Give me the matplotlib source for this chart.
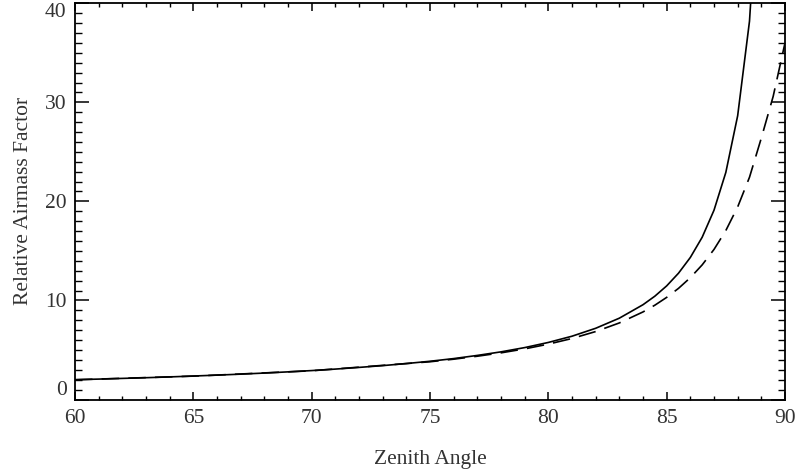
import numpy as np
import matplotlib
matplotlib.use('Agg')
import matplotlib.pyplot as plt
from matplotlib.ticker import MultipleLocator

# Werte
zenith = [60, 61, 62, 63, 64, 65, 66, 67, 68, 69, 70, 71, 72, 73, 74, 75, 76, 77, 78, 79,
          80, 81, 82, 83, 84, 84.5, 85, 85.5, 86, 86.5, 87, 87.5, 88, 88.5, 89]
airmass_flat = [2.00, 2.06, 2.13, 2.20, 2.28, 2.37, 2.46, 2.56, 2.67, 2.79, 2.92, 3.07, 3.24,
                3.42, 3.63, 3.86, 4.13, 4.45, 4.81, 5.24, 5.76, 6.39, 7.19, 8.21, 9.57, 10.43,
                11.47, 12.75, 14.34, 16.38, 19.11, 22.93, 28.65, 38.20, 57.30]

zenith_curved = [60, 65, 70, 75, 76, 77, 78, 79, 80, 81, 82, 83, 84, 84.5, 85, 85.5, 86,
                 86.5, 87, 87.5, 88, 88.5, 89, 89.5, 90]
airmass_curved = [1.99, 2.36, 2.90, 3.81, 4.07, 4.37, 4.71, 5.11, 5.59, 6.16, 6.86, 7.73,
                  8.84, 9.52, 10.31, 11.22, 12.30, 13.59, 15.15, 17.06, 19.44, 22.44, 26.4,
                  30.6, 36.0]

plt.rcParams['font.family'] = 'Liberation Serif'
plt.rcParams['font.size'] = 15.5

fig = plt.figure(figsize=(7.99, 4.73), dpi=100)
ax = fig.add_axes([75 / 799, 73.5 / 473, 710 / 799, 396.2 / 473])

ax.plot(zenith, airmass_flat, color='black', lw=1.2)
ax.plot(zenith_curved, airmass_curved, color='black', lw=1.2, dashes=(10.5, 5.5))

ax.set_xlim(60, 90)
ax.set_ylim(0, 40)
ax.set_xticks([60, 65, 70, 75, 80, 85, 90])
ax.set_yticks([0, 10, 20, 30, 40])
ax.xaxis.set_minor_locator(MultipleLocator(1))
ax.yaxis.set_minor_locator(MultipleLocator(1))

ax.tick_params(axis='x', which='major', direction='in', length=5.8, width=1.1,
               top=True, bottom=True, pad=7, colors='#333333')
ax.tick_params(axis='x', which='minor', direction='in', length=2.9, width=1.0,
               top=True, bottom=True)
ax.tick_params(axis='y', which='major', direction='in', length=10, width=1.1,
               left=True, right=True, pad=6, colors='#333333')
ax.tick_params(axis='y', which='minor', direction='in', length=5, width=1.0,
               left=True, right=True)
ax.tick_params(which='both', color='black')

for s in ax.spines.values():
    s.set_linewidth(1.3)

# Randbeschriftungen nach innen schieben
ylabels = ax.get_yticklabels()
ylabels[0].set_verticalalignment('bottom')
ylabels[-1].set_verticalalignment('top')

ax.set_xlabel('Zenith Angle', color='#333333', labelpad=16)
ax.set_ylabel('Relative Airmass Factor', color='#333333', labelpad=9)

fig.savefig('out.png', dpi=100)
